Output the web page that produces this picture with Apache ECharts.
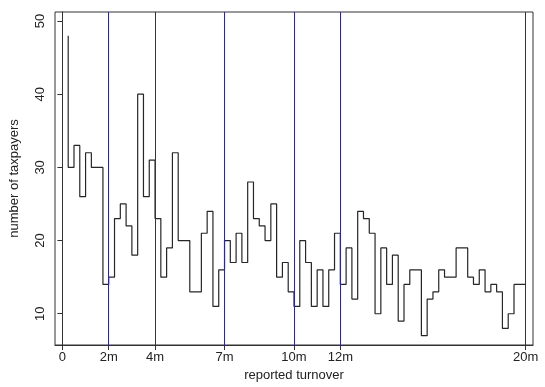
<!DOCTYPE html>
<html>
<head>
<meta charset="utf-8">
<script src="https://cdn.jsdelivr.net/npm/echarts@6/dist/echarts.min.js"></script>
<style>
  html, body { margin: 0; padding: 0; background: #fff; }
  #chart { width: 545px; height: 387px; }
</style>
</head>
<body>
<div id="chart"></div>
<script>
// bin right edges (millions), 0.25m bins
var turnover = [
  0.25, 0.5, 0.75, 1, 1.25, 1.5, 1.75, 2, 2.25, 2.5, 2.75, 3, 3.25, 3.5, 3.75, 4,
  4.25, 4.5, 4.75, 5, 5.25, 5.5, 5.75, 6, 6.25, 6.5, 6.75, 7, 7.25, 7.5, 7.75, 8,
  8.25, 8.5, 8.75, 9, 9.25, 9.5, 9.75, 10, 10.25, 10.5, 10.75, 11, 11.25, 11.5, 11.75, 12,
  12.25, 12.5, 12.75, 13, 13.25, 13.5, 13.75, 14, 14.25, 14.5, 14.75, 15, 15.25, 15.5, 15.75, 16,
  16.25, 16.5, 16.75, 17, 17.25, 17.5, 17.75, 18, 18.25, 18.5, 18.75, 19, 19.25, 19.5, 19.75, 20
];
var taxpayers = [
  48, 30, 33, 26, 32, 30, 30, 14, 15, 23, 25, 22, 18, 40, 26, 31,
  23, 15, 19, 32, 20, 20, 13, 13, 21, 24, 11, 16, 20, 17, 21, 17,
  28, 23, 22, 20, 25, 15, 17, 13, 11, 20, 17, 11, 16, 11, 16, 21,
  14, 19, 12, 24, 23, 21, 10, 19, 14, 18, 9, 14, 16, 16, 7, 12,
  13, 16, 15, 15, 19, 19, 15, 14, 16, 13, 14, 13, 8, 10, 14, 14
];
var xTicks = [0, 2, 4, 7, 10, 12, 20];
var yTicks = [10, 20, 30, 40, 50];
var thresholds = [2, 4, 7, 10, 12, 20];

var font = '"Liberation Sans", Arial, sans-serif';
var ink = '#222';

var points = turnover.map(function (x, i) { return [x, taxpayers[i]]; });
var marks = thresholds.map(function (x) { return { xAxis: x }; });

var chart = echarts.init(document.getElementById('chart'));
chart.setOption({
  animation: false,
  grid: {
    left: 50, right: 12, top: 12, bottom: 42,
    show: true, borderColor: '#333', borderWidth: 1
  },
  xAxis: {
    type: 'value',
    min: -0.32, max: 20.32,
    name: 'reported turnover',
    nameLocation: 'middle',
    nameGap: 24,
    nameTextStyle: { fontFamily: font, fontSize: 13, color: ink },
    splitLine: { show: false },
    axisLine: { lineStyle: { color: '#333', width: 1 } },
    axisTick: { customValues: xTicks, length: 5, lineStyle: { color: '#333' } },
    axisLabel: {
      customValues: xTicks,
      margin: 6,
      fontFamily: font, fontSize: 13, color: ink,
      formatter: function (v) { return v === 0 ? '0' : v + 'm'; }
    }
  },
  yAxis: {
    type: 'value',
    min: 5.73, max: 51.23,
    name: 'number of taxpayers',
    nameLocation: 'middle',
    nameGap: 34,
    nameTextStyle: { fontFamily: font, fontSize: 13, color: ink },
    splitLine: { show: false },
    axisLine: { show: true, lineStyle: { color: '#333', width: 1 } },
    axisTick: { show: true, customValues: yTicks, length: 5, lineStyle: { color: '#333' } },
    axisLabel: {
      customValues: yTicks,
      rotate: 90,
      margin: 8,
      fontFamily: font, fontSize: 13, color: ink
    }
  },
  series: [{
    type: 'line',
    step: 'start',
    data: points,
    showSymbol: false,
    lineStyle: { color: '#262626', width: 1.2 },
    markLine: {
      silent: true,
      symbol: ['none', 'none'],
      label: { show: false },
      lineStyle: { type: 'solid', width: 1, color: '#2626a6' },
      data: marks
    }
  }]
});
</script>
</body>
</html>
